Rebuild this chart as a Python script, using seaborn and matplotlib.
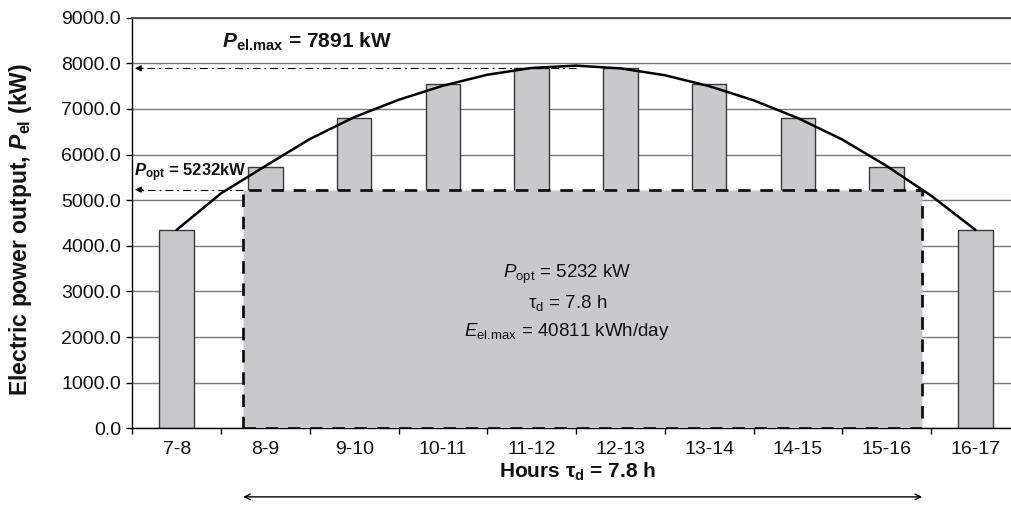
import matplotlib
matplotlib.use("Agg")
import matplotlib.pyplot as plt
from matplotlib.patches import Rectangle
from matplotlib.ticker import FixedLocator, FormatStrFormatter
import seaborn as sns
import pandas as pd

# Hourly electric power output of the plant
hours = ["7-8", "8-9", "9-10", "10-11", "11-12", "12-13", "13-14", "14-15", "15-16", "16-17"]
power_kw = [4350, 5730, 6800, 7540, 7891, 7891, 7540, 6800, 5730, 4350]

# Smoothed daily output profile (positions in hour slots, 0 = 7-8)
profile_pos = [0, 0.5, 1, 1.5, 2, 2.5, 3, 3.5, 4, 4.5, 5, 5.5, 6, 6.5, 7, 7.5, 8, 8.5, 9]
profile_kw = [4350, 5150, 5750, 6340, 6820, 7200, 7510, 7750, 7900, 7950,
              7890, 7740, 7500, 7190, 6800, 6330, 5750, 5100, 4350]

p_el_max = 7891
p_opt = 5232
tau_d = 7.8
e_el_max = 40811

sns.set_theme(style="white")
plt.rcParams["font.family"] = ["Liberation Sans", "DejaVu Sans"]
plt.rcParams["mathtext.fontset"] = "custom"
plt.rcParams["mathtext.rm"] = "Liberation Sans"
plt.rcParams["mathtext.it"] = "Liberation Sans:italic"
plt.rcParams["mathtext.bf"] = "Liberation Sans:bold"
plt.rcParams["mathtext.bfit"] = "Liberation Sans:italic:bold"

bar_grey = "#c8c9cb"
ink = "#111111"

fig = plt.figure(figsize=(10.12, 5.11), dpi=100)
ax = fig.add_axes([0.1307, 0.1618, 0.877, 0.8035])

df = pd.DataFrame({"hour": hours, "power": power_kw})
sns.barplot(data=df, x="hour", y="power", color=bar_grey, width=0.39,
            saturation=1, edgecolor="#3a3a3a", linewidth=1.0, ax=ax, zorder=2)

# Optimal constant-output block
block = Rectangle((0.75, 0), 8.40 - 0.75, p_opt, facecolor=bar_grey,
                  edgecolor=ink, linewidth=2.0, linestyle=(0, (4.5, 3.5)),
                  zorder=3)
ax.add_patch(block)

sns.lineplot(x=profile_pos, y=profile_kw, color="black", linewidth=1.8,
             sort=False, ax=ax, zorder=5)

ax.set_xlim(-0.5, 9.5)
ax.set_ylim(0, 9000)

# grid
ax.yaxis.set_major_locator(FixedLocator(range(0, 9001, 1000)))
ax.yaxis.set_major_formatter(FormatStrFormatter("%.1f"))
ax.grid(axis="y", color="#7a7a7a", linewidth=1.0, zorder=0)
ax.set_axisbelow(True)

ax.spines["right"].set_visible(False)
ax.spines["top"].set_color("#3a3a3a")
ax.spines["top"].set_linewidth(1.2)
for side in ("left", "bottom"):
    ax.spines[side].set_color("black")
    ax.spines[side].set_linewidth(1.0)

ax.tick_params(axis="y", which="major", left=True, length=4.5, width=1.0,
               color="black", labelsize=14, pad=3.5, labelcolor=ink)
ax.xaxis.set_minor_locator(FixedLocator([i - 0.5 for i in range(11)]))
ax.tick_params(axis="x", which="major", bottom=False, labelsize=14, pad=3,
               labelcolor=ink)
ax.tick_params(axis="x", which="minor", bottom=True, length=4.5, width=1.0,
               color="black")

ax.set_ylabel(r"Electric power output, $\mathbfit{P}_{\mathbf{el}}$ (kW)",
              fontsize=16.5, fontweight="bold", color=ink)
ax.yaxis.set_label_coords(-0.111, 0.485)
ax.set_xlabel(r"Hours τ$_{\mathbf{d}}$ = 7.8 h", fontsize=15,
              fontweight="bold", color=ink)
ax.xaxis.set_label_coords(0.502, -0.078)

# Reference arrows for peak and optimal power
dashdot = (0, (7, 3.5, 1.8, 3.5))
ax.plot([4.5, -0.42], [p_el_max, p_el_max], color="black", lw=0.8,
        linestyle=dashdot, zorder=4)
ax.annotate("", xy=(-0.47, p_el_max), xytext=(-0.38, p_el_max),
            arrowprops=dict(arrowstyle="-|>", color="black", lw=0.8,
                            mutation_scale=9, shrinkA=0, shrinkB=0))
ax.plot([0.75, -0.42], [p_opt, p_opt], color="black", lw=0.8,
        linestyle=dashdot, zorder=4)
ax.annotate("", xy=(-0.47, p_opt), xytext=(-0.38, p_opt),
            arrowprops=dict(arrowstyle="-|>", color="black", lw=0.8,
                            mutation_scale=9, shrinkA=0, shrinkB=0))

ax.text(0.51, 8470, r"$\mathbfit{P}_{\mathbf{el.\!max}}$ = %d kW" % p_el_max,
        fontsize=15, fontweight="bold", ha="left", va="center", color=ink)
ax.text(-0.48, 5600, r"$\mathbfit{P}_{\mathbf{opt}}$ = %dkW" % p_opt,
        fontsize=12, fontweight="bold", ha="left", va="center", color=ink,
        zorder=6)

ax.text(4.4, 3364, r"$P_{\mathrm{opt}}$ = %d kW" % p_opt, fontsize=13.5,
        ha="center", va="center", color=ink, zorder=6)
ax.text(4.4, 2750, r"τ$_{\mathrm{d}}$ = %.1f h" % tau_d, fontsize=13.5,
        ha="center", va="center", color=ink, zorder=6)
ax.text(4.4, 2118, r"$E_{\mathrm{el.\!max}}$ = %d kWh/day" % e_el_max, fontsize=13.5,
        ha="center", va="center", color=ink, zorder=6)

# Span of the operating period below the axis
ax.annotate("", xy=(0.75, -0.167), xytext=(8.40, -0.167),
            xycoords=ax.get_xaxis_transform(), textcoords=ax.get_xaxis_transform(),
            arrowprops=dict(arrowstyle="<->", color="black", lw=1.0,
                            mutation_scale=10, shrinkA=0, shrinkB=0),
            annotation_clip=False)

fig.savefig("out.png", dpi=100)
